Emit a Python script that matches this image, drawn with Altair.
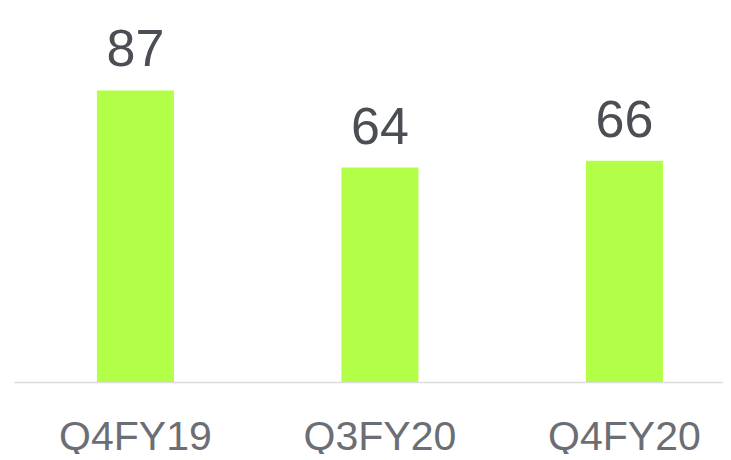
import altair as alt
import pandas as pd

categories = ["Q4FY19", "Q3FY20", "Q4FY20"]
values = [87, 64, 66]

df = pd.DataFrame({"period": categories, "value": values})

x_enc = alt.X(
    "period:N",
    sort=categories,
    title=None,
    scale=alt.Scale(paddingInner=0.685, paddingOuter=0.2924, align=0.58),
    axis=alt.Axis(
        labelAngle=0,
        labelFont="Liberation Sans",
        labelFontSize=41,
        labelColor="#6b6e74",
        labelPadding=35,
        ticks=False,
        tickSize=0,
        domainColor="#dcdcdc",
        domainWidth=1.5,
        grid=False,
    ),
)
y_enc = alt.Y("value:Q", title=None, scale=alt.Scale(domain=[0, 111.6], nice=False), axis=None)

bars = alt.Chart(df).mark_bar(color="#b3ff47").encode(x=x_enc, y=y_enc)
labels = alt.Chart(df).mark_text(
    baseline="alphabetic",
    dy=-24,
    font="Liberation Sans",
    fontSize=52,
    color="#4b4e54",
).encode(x=alt.X("period:N", sort=categories), y="value:Q", text="value:Q")

chart = (
    alt.layer(bars, labels)
    .properties(
        width=709,
        height=374,
        padding={"left": 6, "top": 0, "right": 0, "bottom": 72},
        autosize=alt.AutoSizeParams(type="none"),
        view=alt.ViewBackground(stroke="transparent", strokeWidth=0),
    )
    .configure_view(stroke="transparent", strokeWidth=0)
)

chart.save("out.html", embed_options={"renderer": "svg", "actions": False})
